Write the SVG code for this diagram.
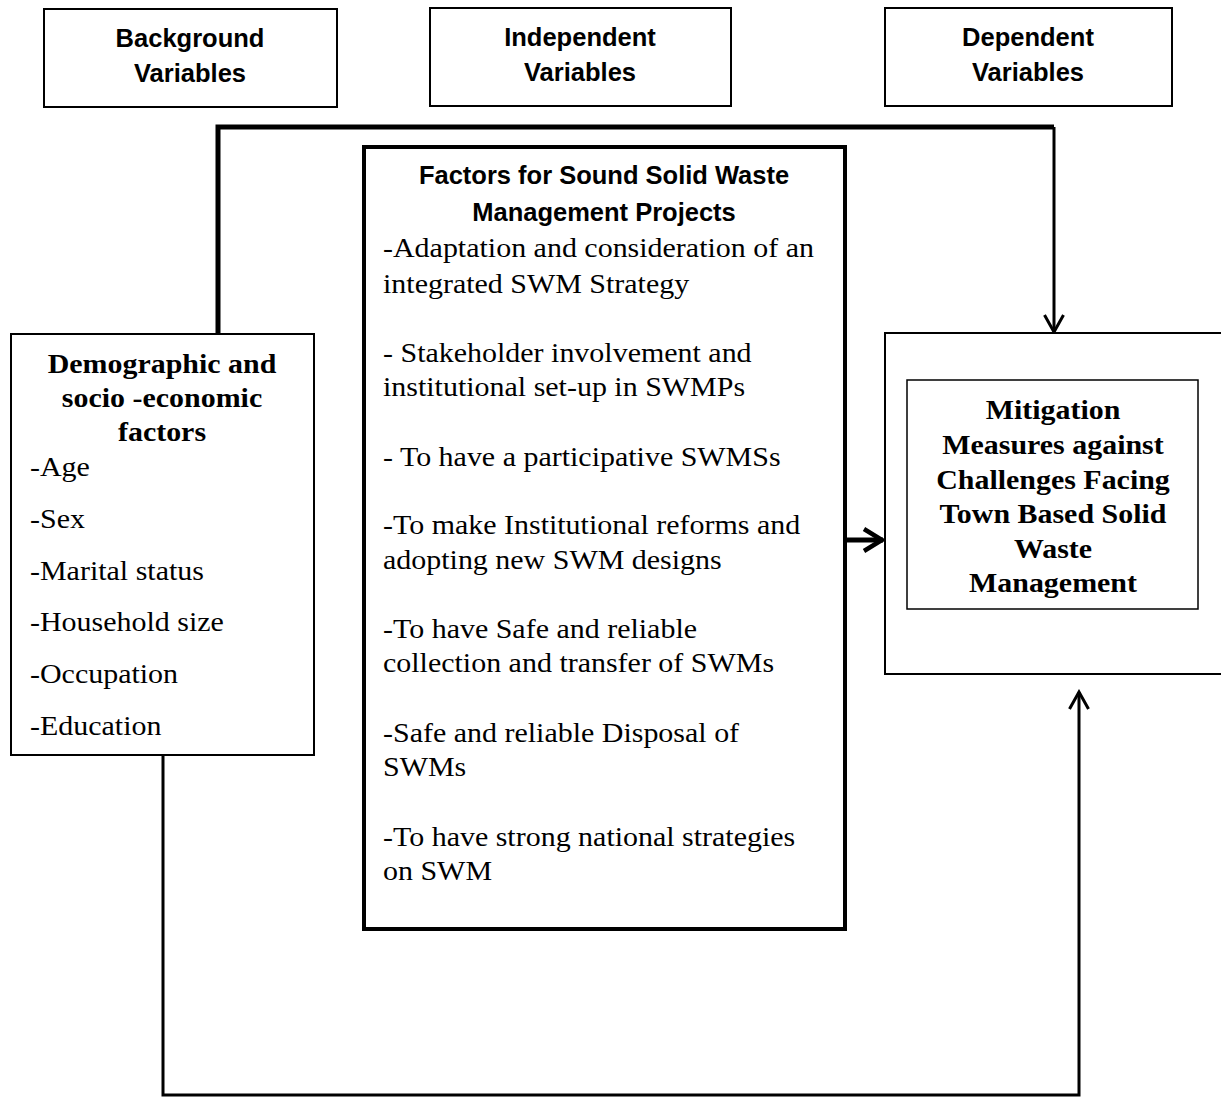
<svg xmlns="http://www.w3.org/2000/svg" width="1221" height="1097" viewBox="0 0 1221 1097">
<defs>
<style>
.hdr{font-family:"Liberation Sans",Arial,sans-serif;font-weight:bold;font-size:25.5px;fill:#000;text-anchor:middle}
.body{font-family:"Liberation Serif","Times New Roman",serif;font-size:27px;fill:#000}
.bold{font-family:"Liberation Serif","Times New Roman",serif;font-weight:bold;font-size:26.5px;fill:#000;text-anchor:middle}
.box{fill:#fff;stroke:#000;stroke-width:2}
.line{fill:none;stroke:#000;stroke-width:3}
.thick{fill:none;stroke:#000;stroke-width:5}
</style>
<marker id="arr" viewBox="0 0 22 22" refX="19" refY="11" markerWidth="22" markerHeight="22" markerUnits="userSpaceOnUse" orient="auto">
<path d="M2,1.5 L19,11 L2,20.5" fill="none" stroke="#000" stroke-width="3"/>
</marker>
<marker id="arrT" viewBox="0 0 26 26" refX="22" refY="13" markerWidth="26" markerHeight="26" markerUnits="userSpaceOnUse" orient="auto">
<path d="M3,2 L21,13 L3,24" fill="none" stroke="#000" stroke-width="4.5"/>
</marker>
</defs>
<rect width="1221" height="1097" fill="#fff"/>
<g id="connectors">
<path class="thick" d="M218,333 V127 H1054"/>
<path class="line" d="M1054,127 V332" marker-end="url(#arr)"/>
<path class="line" d="M163,755 V1095 H1079 V692" marker-end="url(#arr)"/>
<path class="thick" d="M846,540 H883" marker-end="url(#arrT)"/>
</g>
<g id="background-variables">
<rect class="box" x="44" y="9" width="293" height="98"/>
<text class="hdr" x="190" y="47">Background</text>
<text class="hdr" x="190" y="82">Variables</text>
</g>
<g id="independent-variables">
<rect class="box" x="430" y="8" width="301" height="98"/>
<text class="hdr" x="580" y="46">Independent</text>
<text class="hdr" x="580" y="81">Variables</text>
</g>
<g id="dependent-variables">
<rect class="box" x="885" y="8" width="287" height="98"/>
<text class="hdr" x="1028" y="46">Dependent</text>
<text class="hdr" x="1028" y="81">Variables</text>
</g>
<g id="demographic">
<rect class="box" x="11" y="334" width="303" height="421"/>
<g transform="translate(162 0) scale(1.13 1)">
<text class="bold" x="0" y="373">Demographic and</text>
<text class="bold" x="0" y="407">socio -economic</text>
<text class="bold" x="0" y="441">factors</text>
</g>
<g transform="translate(30 0) scale(1.11 1)">
<text class="body" x="0" y="476">-Age</text>
<text class="body" x="0" y="528">-Sex</text>
<text class="body" x="0" y="580">-Marital status</text>
<text class="body" x="0" y="631">-Household size</text>
<text class="body" x="0" y="683">-Occupation</text>
<text class="body" x="0" y="735">-Education</text>
</g>
</g>
<g id="factors">
<rect x="364" y="147" width="481" height="782" fill="#fff" stroke="#000" stroke-width="4"/>
<text class="hdr" x="604" y="184">Factors for Sound Solid Waste</text>
<text class="hdr" x="604" y="221">Management Projects</text>
<g transform="translate(383 0) scale(1.11 1)">
<text class="body" x="0" y="257">-Adaptation and consideration of an</text>
<text class="body" x="0" y="293">integrated SWM Strategy</text>
<text class="body" x="0" y="362">- Stakeholder involvement and</text>
<text class="body" x="0" y="396">institutional set-up in SWMPs</text>
<text class="body" x="0" y="466">- To have a participative SWMSs</text>
<text class="body" x="0" y="534">-To make Institutional reforms and</text>
<text class="body" x="0" y="569">adopting new SWM designs</text>
<text class="body" x="0" y="638">-To have Safe and reliable</text>
<text class="body" x="0" y="672">collection and transfer of SWMs</text>
<text class="body" x="0" y="742">-Safe and reliable Disposal of</text>
<text class="body" x="0" y="776">SWMs</text>
<text class="body" x="0" y="846">-To have strong national strategies</text>
<text class="body" x="0" y="880">on SWM</text>
</g>
</g>
<g id="mitigation">
<rect class="box" x="885" y="333" width="340" height="341"/>
<rect x="907" y="380" width="291" height="229" fill="#fff" stroke="#000" stroke-width="1.5"/>
<g transform="translate(1053 0) scale(1.13 1)">
<text class="bold" x="0" y="419">Mitigation</text>
<text class="bold" x="0" y="454">Measures against</text>
<text class="bold" x="0" y="489">Challenges Facing</text>
<text class="bold" x="0" y="523">Town Based Solid</text>
<text class="bold" x="0" y="558">Waste</text>
<text class="bold" x="0" y="592">Management</text>
</g>
</g>
</svg>
